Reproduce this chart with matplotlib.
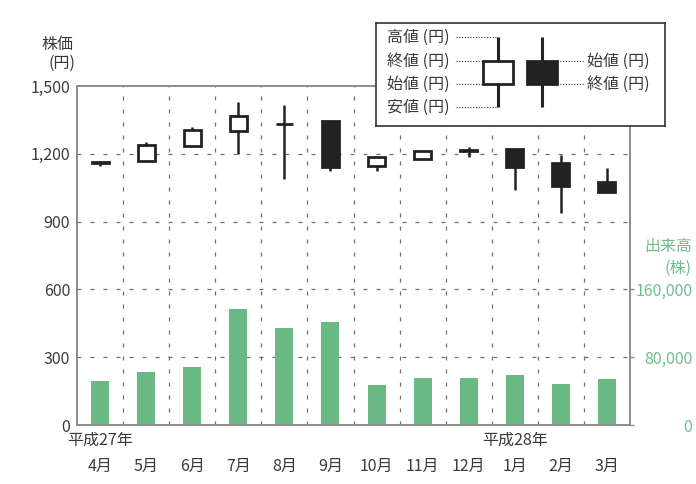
import matplotlib
matplotlib.use("Agg")
import matplotlib.pyplot as plt
import numpy as np

plt.rcParams['font.family'] = ['Noto Sans CJK JP', 'DejaVu Sans']

# monthly data (H27/4 - H28/3)
months = ['4月', '5月', '6月', '7月', '8月', '9月', '10月', '11月', '12月', '1月', '2月', '3月']
opens = [1165, 1168, 1236, 1301, 1330, 1345, 1146, 1176, 1215, 1221, 1158, 1077]
closes = [1160, 1239, 1305, 1367, 1332, 1140, 1187, 1214, 1212, 1140, 1058, 1030]
highs = [1168, 1254, 1320, 1431, 1416, 1345, 1187, 1214, 1231, 1221, 1195, 1136]
lows = [1146, 1168, 1231, 1199, 1089, 1125, 1125, 1176, 1187, 1040, 939, 1030]
volumes = [52000, 62000, 68000, 136500, 115000, 122000, 47000, 55000, 55000, 59000, 48000, 54000]

price_ticks = [0, 300, 600, 900, 1200, 1500]
volume_ticks = [0, 80000, 160000]

TEXT = '#3a3a3a'
GREEN = '#6ab985'
GREEN_TXT = '#6dbd8b'
SPINE = '#8c8c8c'
GRID = '#707070'
CANDLE = '#222222'

W, H = 696, 484
fig = plt.figure(figsize=(W / 100, H / 100), dpi=100)

def px(l, t, r, b):
    return [l / W, 1 - b / H, (r - l) / W, (b - t) / H]

ax = fig.add_axes(px(77, 86, 630, 425))
ax2 = ax.twinx()
ax.set_zorder(2)
ax.patch.set_visible(False)
ax2.set_zorder(1)

x = np.arange(len(months))

# volume bars on right axis
ax2.bar(x, volumes, width=0.39, color=GREEN, zorder=3)
ax2.set_ylim(0, 400000)
ax2.set_yticks(volume_ticks)
ax2.set_yticklabels([f'{v:,}' for v in volume_ticks], color=GREEN_TXT, fontsize=11.5)
for lab in ax2.get_yticklabels():
    lab.set_horizontalalignment('right')
ax2.tick_params(axis='y', length=3, width=1, color=SPINE, pad=42)

# grid
dash = (0, (3.2, 7.2))
for v in price_ticks[1:-1]:
    ax2.axhline(v * 400000 / 1500, color=GRID, lw=0.9, linestyle=dash, zorder=1)
for k in range(len(months) - 1):
    ax2.axvline(k + 0.5, color=GRID, lw=0.9, linestyle=dash, zorder=1)

# candlesticks
for i in range(len(months)):
    o, c, hi, lo = opens[i], closes[i], highs[i], lows[i]
    ax.vlines(i, lo, hi, color=CANDLE, lw=1.8, zorder=4)
    face = 'white' if c >= o else CANDLE
    ax.bar(i, abs(c - o), bottom=min(o, c), width=0.37, color=face,
           edgecolor=CANDLE, linewidth=2.0, zorder=5)

ax.set_xlim(-0.5, len(months) - 0.5)
ax2.set_xlim(-0.5, len(months) - 0.5)
ax.set_ylim(0, 1500)
ax.set_yticks(price_ticks)
ax.set_yticklabels([f'{v:,}' for v in price_ticks], color=TEXT, fontsize=11.5)
ax.tick_params(axis='y', length=0, pad=5)
ax.set_xticks(x)
ax.set_xticklabels(months, color=TEXT, fontsize=11.5)
ax.tick_params(axis='x', length=0, pad=24)

for a in (ax, ax2):
    for s in a.spines.values():
        s.set_color(SPINE)
        s.set_linewidth(1.2)

# era labels
ax.text(0, -0.045, '平成27年', transform=ax.get_xaxis_transform(), ha='center', va='center',
        color=TEXT, fontsize=11.5)
ax.text(9, -0.045, '平成28年', transform=ax.get_xaxis_transform(), ha='center', va='center',
        color=TEXT, fontsize=11.5)

# axis titles
fig.text(73 / W, 1 - 45 / H, '株価', ha='right', va='center', color=TEXT, fontsize=11.5)
fig.text(75 / W, 1 - 63 / H, '(円)', ha='right', va='center', color=TEXT, fontsize=11.5)
fig.text(692 / W, 1 - 247 / H, '出来高', ha='right', va='center', color=GREEN_TXT, fontsize=11.5)
fig.text(692 / W, 1 - 268 / H, '(株)', ha='right', va='center', color=GREEN_TXT, fontsize=11.5)

# legend key box (pixel coordinates)
lg = fig.add_axes(px(376, 23, 665, 126))
lg.set_zorder(5)
lg.set_xlim(376, 665)
lg.set_ylim(126, 23)
lg.set_xticks([])
lg.set_yticks([])
for s in lg.spines.values():
    s.set_color('#333333')
    s.set_linewidth(1.2)

key_top, key_bot = 61, 84
key_hi, key_lo = 37, 107
for cx, face in [(498, 'white'), (541.5, CANDLE)]:
    lg.vlines(cx, key_hi, key_lo, color=CANDLE, lw=2.2, zorder=2)
    lg.add_patch(plt.Rectangle((cx - 15, key_top), 30, key_bot - key_top, facecolor=face,
                               edgecolor=CANDLE, lw=2.0, zorder=3))

left_labels = [('高値 (円)', key_hi, 498), ('終値 (円)', key_top, 483),
               ('始値 (円)', key_bot, 483), ('安値 (円)', key_lo, 498)]
for txt, yy, xe in left_labels:
    lg.text(387, yy, txt, ha='left', va='center', color=TEXT, fontsize=11.5)
    lg.plot([456, xe], [yy, yy], color='#333333', lw=0.8, linestyle=(0, (1, 1.5)))

right_labels = [('始値 (円)', key_top), ('終値 (円)', key_bot)]
for txt, yy in right_labels:
    lg.text(587, yy, txt, ha='left', va='center', color=TEXT, fontsize=11.5)
    lg.plot([557, 584], [yy, yy], color='#333333', lw=0.8, linestyle=(0, (1, 1.5)))

fig.savefig('out.png', dpi=100)
